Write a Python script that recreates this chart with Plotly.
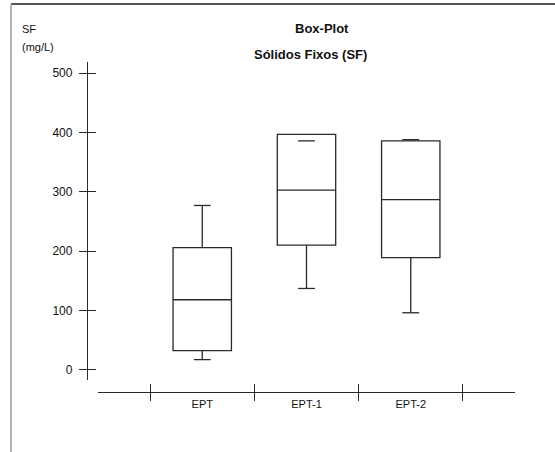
"""Box-plot of fixed solids (SF) per sampling point."""

import plotly.graph_objects as go

categories = ["EPT", "EPT-1", "EPT-2"]
q1 = [32, 210, 189]
median = [118, 303, 287]
q3 = [206, 397, 386]
whisker_low = [17, 137, 96]
whisker_high = [277, 386, 388]
y_ticks = [0, 100, 200, 300, 400, 500]

W, H = 555, 452
L, R, T, B = 87, 40, 62, 60
PW, PH = W - L - R, H - T - B

INK = "#2a2a2a"
FONT = "Liberation Sans, Arial, sans-serif"

fig = go.Figure()

# boxes; whisker line stops at the box edge when the whisker lies inside the box
for i, name in enumerate(categories):
    fig.add_trace(go.Box(
        x=[name],
        q1=[q1[i]], median=[median[i]], q3=[q3[i]],
        lowerfence=[min(whisker_low[i], q1[i])],
        upperfence=[max(whisker_high[i], q3[i])],
        width=0.56,
        whiskerwidth=0,
        fillcolor="rgba(0,0,0,0)",
        line=dict(color=INK, width=1.3),
        boxpoints=False,
        hoverinfo="skip",
        showlegend=False,
    ))

# whisker caps
fig.add_trace(go.Scatter(
    x=categories * 2,
    y=whisker_low + whisker_high,
    mode="markers",
    marker=dict(symbol="line-ew", size=12, color=INK,
                line=dict(color=INK, width=1.3)),
    xaxis="x2", yaxis="y2",
    hoverinfo="skip",
    showlegend=False,
))

yrange = [-17.4, 519]
xrange_ = [-1, 3]
xdom = [11 / PW, 1]
ydom = [12 / PH, 1]

axis_common = dict(showgrid=False, zeroline=False, color=INK)

fig.update_layout(
    width=W, height=H,
    margin=dict(l=L, r=R, t=T, b=B),
    paper_bgcolor="white", plot_bgcolor="white",
    font=dict(family=FONT, size=11, color="#111"),
    xaxis=dict(
        **axis_common,
        type="category", categoryarray=categories, range=xrange_,
        domain=xdom, anchor="free", position=0,
        showline=True, linecolor=INK, linewidth=1.3,
        ticks="outside", ticklen=8, tickwidth=1.3, tickcolor=INK,
        tickson="boundaries",
        ticklabelstandoff=2,
        tickfont=dict(size=11, color="#111"),
    ),
    xaxis2=dict(
        **axis_common,
        type="category", categoryarray=categories, range=xrange_,
        domain=xdom, anchor="free", position=0, overlaying="x",
        showline=False, showticklabels=False,
        ticks="inside", ticklen=8, tickwidth=1.3, tickcolor=INK,
        tickson="boundaries",
    ),
    yaxis=dict(
        **axis_common,
        range=yrange, domain=ydom, anchor="free", position=0,
        tickvals=y_ticks,
        showline=True, linecolor=INK, linewidth=1.3,
        ticks="outside", ticklen=8, tickwidth=1.3, tickcolor=INK,
        ticklabelstandoff=4,
        tickfont=dict(size=12, color="#111"),
    ),
    yaxis2=dict(
        **axis_common,
        range=yrange, domain=ydom, anchor="free", position=0, overlaying="y",
        tickvals=y_ticks,
        showline=False, showticklabels=False,
        ticks="inside", ticklen=8, tickwidth=1.3, tickcolor=INK,
    ),
)

def px(x):
    return (x - L) / PW

def py(y):
    return (H - B - y) / PH

# frame: dark top edge, light left edge
fig.add_shape(type="line", xref="paper", yref="paper",
              x0=px(11), x1=px(W), y0=py(4), y1=py(4),
              line=dict(color="#555555", width=2))
fig.add_shape(type="line", xref="paper", yref="paper",
              x0=px(11), x1=px(11), y0=py(4), y1=py(H),
              line=dict(color="#b4b4b4", width=2))

texts = [
    ("<b>Box-Plot</b>", 322, 28, 13, "center"),
    ("<b>Sólidos Fixos (SF)</b>", 310, 55, 13, "center"),
    ("SF", 20, 29, 11, "left"),
    ("(mg/L)", 20, 47, 11, "left"),
]
for txt, x, y, size, anchor in texts:
    fig.add_annotation(text=txt, xref="paper", yref="paper",
                       x=px(x), y=py(y), xanchor=anchor, yanchor="middle",
                       showarrow=False, font=dict(size=size, color="#111"))

fig.write_html("out.html",
               config={"displayModeBar": False},
               post_script="document.body.style.margin='0';"
                           "document.body.style.overflow='hidden';")
